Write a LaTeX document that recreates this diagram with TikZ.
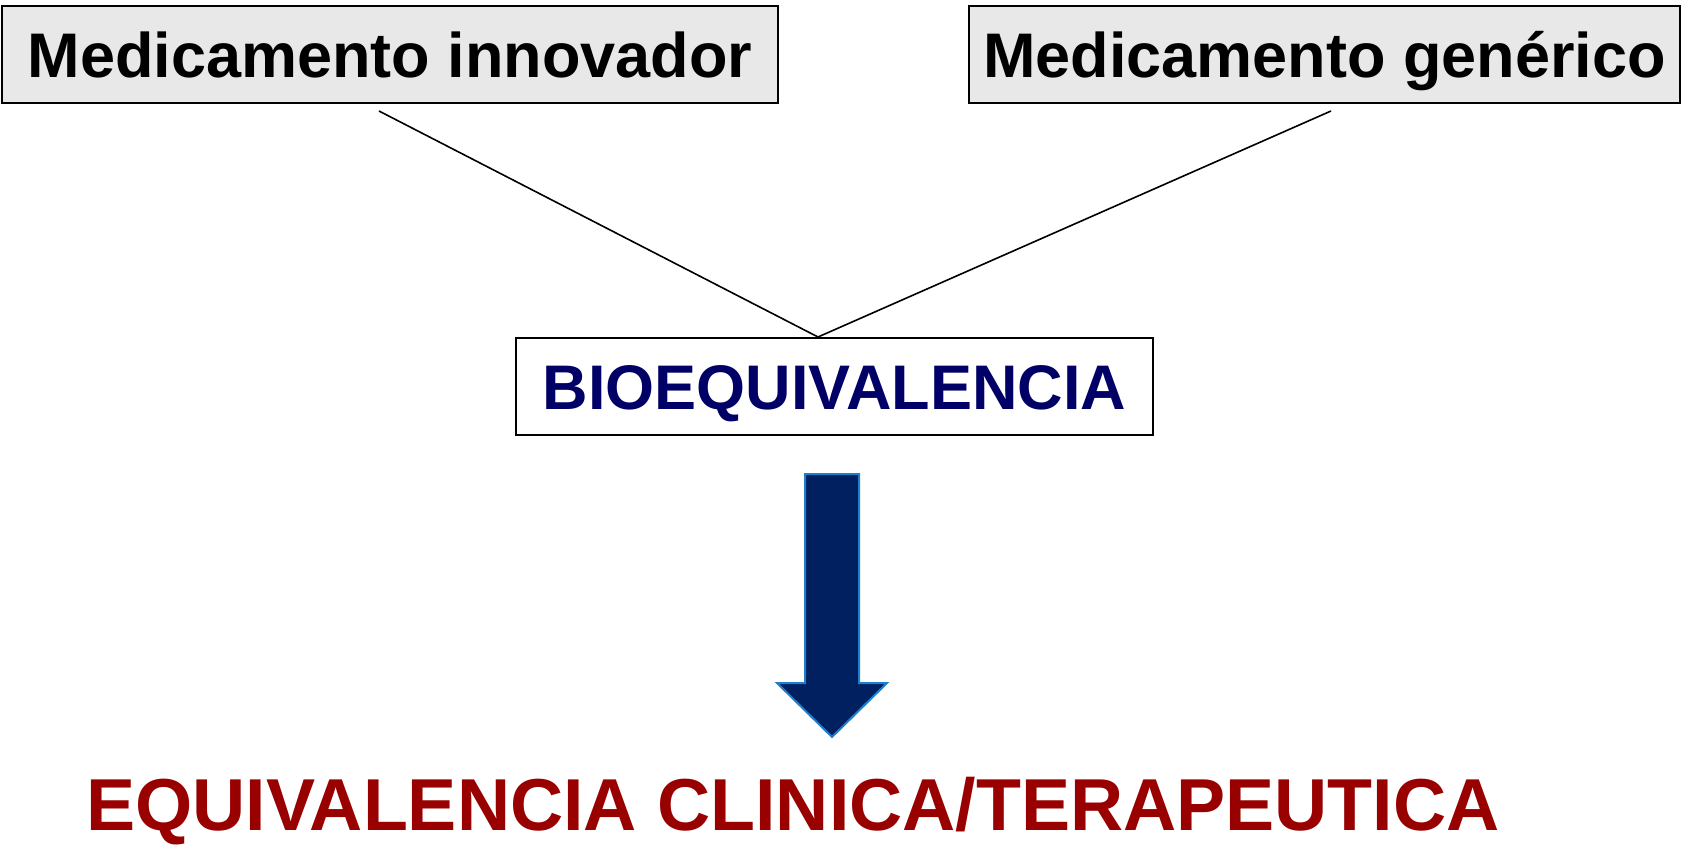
\documentclass[tikz,border=0pt]{standalone}
\usepackage{fontspec}
\setmainfont{Liberation Sans}
\definecolor{boxgray}{HTML}{E8E8E8}
\definecolor{navytext}{HTML}{000066}
\definecolor{darkred}{HTML}{990000}
\definecolor{arrowfill}{HTML}{002060}
\definecolor{arrowedge}{HTML}{1F7FCC}
\begin{document}
\begin{tikzpicture}[x=0.5pt,y=-0.5pt,
  topbox/.style={draw=black, line width=0.9pt, fill=boxgray, inner sep=0pt,
    minimum height=48.5pt, text height=22.5pt, text depth=0pt,
    font=\fontsize{31.5pt}{36pt}\selectfont\bfseries},
  midbox/.style={draw=black, line width=0.9pt, fill=white, inner sep=0pt,
    minimum width=318.5pt, minimum height=48.5pt, text height=22.5pt, text depth=0pt,
    text=navytext, font=\fontsize{31.5pt}{36pt}\selectfont\bfseries},
  result/.style={inner sep=0pt, text height=26.3pt, text depth=0pt,
    text=darkred, font=\fontsize{36.8pt}{40pt}\selectfont\bfseries},
  link/.style={draw=black, line width=0.8pt},
  bigarrow/.style={fill=arrowfill, draw=arrowedge, line width=1pt, line join=miter}
]
\useasboundingbox (0,0) rectangle (1685,846);
\node[topbox, minimum width=388pt] (inn) at (390,54.5) {Medicamento innovador};
\node[topbox, minimum width=355.5pt] (gen) at (1324.5,54.5) {Medicamento genérico};
\node[midbox] (bio) at (834.5,386.5) {BIOEQUIVALENCIA};
\node[result] (eq) at (793,804) {EQUIVALENCIA CLINICA/TERAPEUTICA};
\coordinate (s1) at (379,111);
\coordinate (s2) at (1331,111);
\coordinate (m) at (818,337);
\draw[link] (s1) -- (m) -- (s2);
\draw[bigarrow] (805,474) -- (859,474) -- (859,683) -- (887,683) -- (832,737)
  -- (777,683) -- (805,683) -- cycle;
\end{tikzpicture}
\end{document}
